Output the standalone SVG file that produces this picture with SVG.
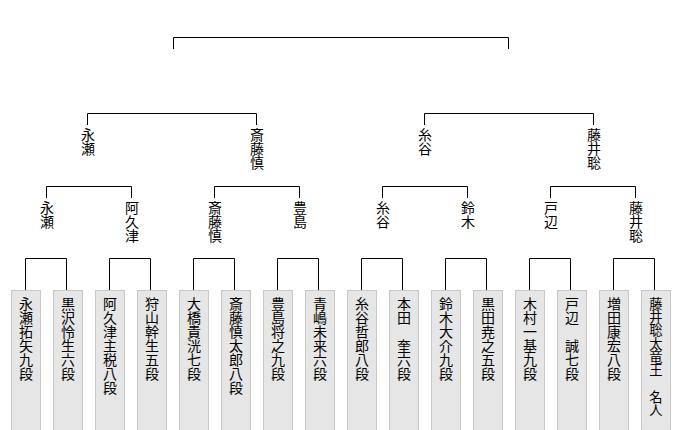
<svg xmlns="http://www.w3.org/2000/svg" width="680" height="430" viewBox="0 0 680 430">
<style>
.ln{fill:none;stroke:#000;stroke-width:1}
.bx{fill:#e6e6e6;stroke:#c8c8c8;stroke-width:1}
.t{font-family:"Noto Sans CJK JP","Noto Sans CJK SC",sans-serif;font-size:14px;fill:#000;writing-mode:vertical-rl;text-orientation:upright}
</style>
<rect width="680" height="430" fill="#fff"/>
<g id="connectors">
<path class="ln" d="M173.5 49V37.5H508.5V49"/>
<path class="ln" d="M87.5 125V113.5H256.5V125"/>
<path class="ln" d="M424.5 125V113.5H593.5V125"/>
<path class="ln" d="M46.5 198V186.5H131.5V198"/>
<path class="ln" d="M214.5 198V186.5H299.5V198"/>
<path class="ln" d="M382.5 198V186.5H467.5V198"/>
<path class="ln" d="M550.5 198V186.5H635.5V198"/>
<path class="ln" d="M25.5 290V258.5H66.5V290"/>
<path class="ln" d="M109.5 290V258.5H150.5V290"/>
<path class="ln" d="M193.5 290V258.5H234.5V290"/>
<path class="ln" d="M277.5 290V258.5H318.5V290"/>
<path class="ln" d="M361.5 290V258.5H402.5V290"/>
<path class="ln" d="M445.5 290V258.5H486.5V290"/>
<path class="ln" d="M529.5 290V258.5H570.5V290"/>
<path class="ln" d="M613.5 290V258.5H654.5V290"/>
</g>
<g id="r2-1"><text class="t" x="88" y="128">永瀬</text></g>
<g id="r2-2"><text class="t" x="257" y="128">斎藤慎</text></g>
<g id="r2-3"><text class="t" x="425" y="128">糸谷</text></g>
<g id="r2-4"><text class="t" x="594" y="128">藤井聡</text></g>
<g id="r3-1"><text class="t" x="47" y="201">永瀬</text></g>
<g id="r3-2"><text class="t" x="132" y="201">阿久津</text></g>
<g id="r3-3"><text class="t" x="215" y="201">斎藤慎</text></g>
<g id="r3-4"><text class="t" x="300" y="201">豊島</text></g>
<g id="r3-5"><text class="t" x="383" y="201">糸谷</text></g>
<g id="r3-6"><text class="t" x="468" y="201">鈴木</text></g>
<g id="r3-7"><text class="t" x="551" y="201">戸辺</text></g>
<g id="r3-8"><text class="t" x="636" y="201">藤井聡</text></g>
<g id="p1"><rect class="bx" x="11.5" y="290.5" width="29" height="150"/><text class="t" x="26" y="297">永瀬拓矢九段</text></g>
<g id="p2"><rect class="bx" x="53.5" y="290.5" width="29" height="150"/><text class="t" x="68" y="297">黒沢怜生六段</text></g>
<g id="p3"><rect class="bx" x="95.5" y="290.5" width="29" height="150"/><text class="t" x="110" y="297">阿久津主税八段</text></g>
<g id="p4"><rect class="bx" x="137.5" y="290.5" width="29" height="150"/><text class="t" x="152" y="297">狩山幹生五段</text></g>
<g id="p5"><rect class="bx" x="179.5" y="290.5" width="29" height="150"/><text class="t" x="194" y="297">大橋貴洸七段</text></g>
<g id="p6"><rect class="bx" x="221.5" y="290.5" width="29" height="150"/><text class="t" x="236" y="297">斎藤慎太郎八段</text></g>
<g id="p7"><rect class="bx" x="263.5" y="290.5" width="29" height="150"/><text class="t" x="278" y="297">豊島将之九段</text></g>
<g id="p8"><rect class="bx" x="305.5" y="290.5" width="29" height="150"/><text class="t" x="320" y="297">青嶋未来六段</text></g>
<g id="p9"><rect class="bx" x="347.5" y="290.5" width="29" height="150"/><text class="t" x="362" y="297">糸谷哲郎八段</text></g>
<g id="p10"><rect class="bx" x="389.5" y="290.5" width="29" height="150"/><text class="t" x="404" y="297">本田　奎六段</text></g>
<g id="p11"><rect class="bx" x="431.5" y="290.5" width="29" height="150"/><text class="t" x="446" y="297">鈴木大介九段</text></g>
<g id="p12"><rect class="bx" x="473.5" y="290.5" width="29" height="150"/><text class="t" x="488" y="297">黒田尭之五段</text></g>
<g id="p13"><rect class="bx" x="515.5" y="290.5" width="29" height="150"/><text class="t" x="530" y="297">木村一基九段</text></g>
<g id="p14"><rect class="bx" x="557.5" y="290.5" width="29" height="150"/><text class="t" x="572" y="297">戸辺　誠七段</text></g>
<g id="p15"><rect class="bx" x="599.5" y="290.5" width="29" height="150"/><text class="t" x="614" y="297">増田康宏八段</text></g>
<g id="p16"><rect class="bx" x="641.5" y="290.5" width="29" height="150"/><text class="t" x="656" y="297" style="font-size:13.3px">藤井聡太竜王　名人</text></g>
</svg>
